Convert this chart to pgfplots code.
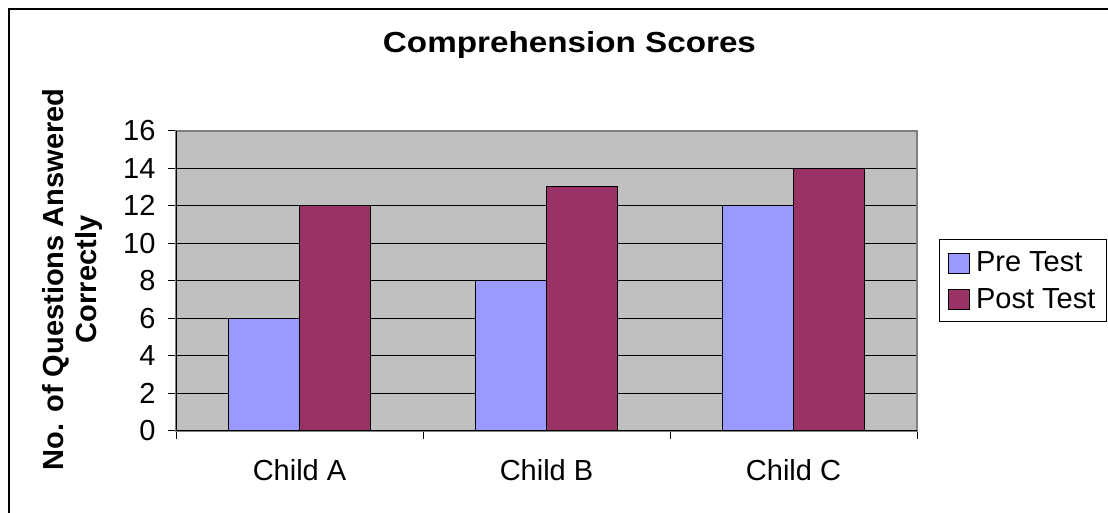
\documentclass[border=0pt]{standalone}
\usepackage{pgfplots}
\pgfplotsset{compat=1.18}
\usepackage{fontspec}
\setmainfont{Liberation Sans}
\definecolor{pre}{HTML}{9999FF}
\definecolor{post}{HTML}{993366}
\definecolor{plotbg}{HTML}{C0C0C0}
\definecolor{framegray}{HTML}{808080}
\newcommand{\fs}{\fontsize{29bp}{33bp}\selectfont}
\begin{document}
\begin{tikzpicture}[x=1bp,y=1bp]
\useasboundingbox (0,0) rectangle (1108,513);
\draw[line width=2bp] (9,0) -- (9,504) -- (1108,504);
\begin{axis}[
  at={(176bp,82bp)}, anchor=south west,
  width=741bp, height=300.3bp, scale only axis,
  xmin=-0.5, xmax=2.5, ymin=0, ymax=16,
  clip=false,
  axis background/.style={fill=plotbg},
  axis line style={draw=framegray, line width=2bp},
  ybar=0pt, bar width=71bp,
  ytick={0,2,...,16}, ytick pos=left,
  ymajorgrids, grid style={black, line width=1bp},
  xtick={-0.5,0.5,1.5,2.5}, xticklabels={}, xtick pos=bottom,
  extra x ticks={0,1,2}, extra x tick labels={Child A,Child B,Child C},
  extra x tick style={major tick length=0pt, grid=none},
  tick align=outside, major tick length=8bp,
  tick style={black, line width=1bp},
  ticklabel style={font=\fs},
  xticklabel style={yshift=-25bp},
  yticklabel style={xshift=-9bp},
  /pgf/number format/assume math mode=true,
  title={\scalebox{1.146}[1]{Comprehension Scores}},
  title style={font=\fontsize{29bp}{33bp}\selectfont\bfseries, at={(axis description cs:0.531,1.2404)}, anchor=base},
  ylabel={No. of Questions Answered\\Correctly},
  ylabel style={font=\fs\bfseries, align=center, at={(axis description cs:-0.1397,0.505)}, anchor=center},
  legend style={at={(axis description cs:1.1426,0.5)}, anchor=center, draw=black, line width=1bp, fill=white, font=\fs, inner xsep=9bp, inner ysep=10bp, row sep=11bp,
    /tikz/every odd column/.append style={column sep=4bp}},
  legend cell align=left,
  legend image code/.code={\draw[#1, line width=1bp] (0bp,-10.5bp) rectangle (21bp,9.5bp);},
]
\addplot[fill=pre, draw=black, line width=1bp] coordinates {(0,6) (1,8) (2,12)};
\addlegendentry{Pre Test}
\addplot[fill=post, draw=black, line width=1bp] coordinates {(0,12) (1,13) (2,14)};
\addlegendentry{Post Test}
\draw[black, line width=1bp] (rel axis cs:0,1) -- (rel axis cs:0,0) -- (rel axis cs:1,0);
\end{axis}
\end{tikzpicture}
\end{document}
